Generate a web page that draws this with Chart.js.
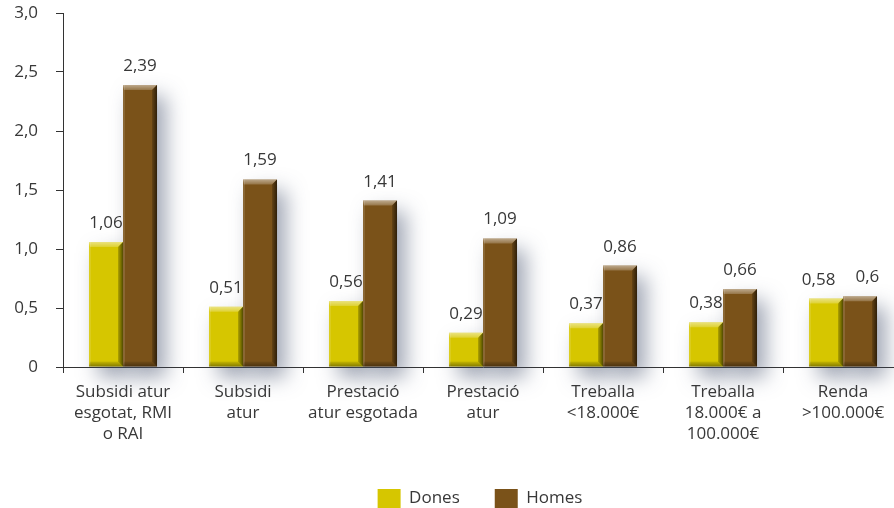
<!DOCTYPE html>
<html>
<head>
<meta charset="utf-8">
<title>Dones i homes per tipus d'ingrés</title>
<style>
  html, body { margin: 0; padding: 0; background: #ffffff; width: 894px; height: 508px; overflow: hidden; }
  #wrap { position: relative; width: 960px; height: 518px; }
</style>
<script src="https://cdn.jsdelivr.net/npm/chart.js@4/dist/chart.umd.min.js"></script>
</head>
<body>
<div id="wrap"><canvas id="chart" width="960" height="518"></canvas></div>
<script>
// Categories (multi-line axis labels)
const categories = [
  ['Subsidi atur', 'esgotat, RMI', 'o RAI'],
  ['Subsidi', 'atur'],
  ['Prestació', 'atur esgotada'],
  ['Prestació', 'atur'],
  ['Treballa', '<18.000€'],
  ['Treballa', '18.000€ a', '100.000€'],
  ['Renda', '>100.000€']
];

// Series values
const seriesNames = ['Dones', 'Homes'];
const dones = [1.06, 0.51, 0.56, 0.29, 0.37, 0.38, 0.58];
const homes = [2.39, 1.59, 1.41, 1.09, 0.86, 0.66, 0.6];

// Value-axis tick labels (0 to 3 in steps of 0.5)
const yTickLabels = ['0', '0,5', '1,0', '1,5', '2,0', '2,5', '3,0'];

const FONT = "'Open Sans', 'Noto Sans', sans-serif";
const TEXT = '#383838';
const AXIS = '#333333';
const COLOURS = ['#D6C600', '#7A5219'];

const decimal = v => String(v).replace('.', ',');

function barBox(bar) {
  const p = bar.getProps(['x', 'y', 'base', 'width'], true);
  return { l: p.x - p.width / 2, r: p.x + p.width / 2, t: p.y, b: p.base, cx: p.x };
}

// Soft drop shadow cast behind each bar
const barShadow = {
  id: 'barShadow',
  beforeDatasetsDraw(chart) {
    const ctx = chart.ctx;
    const far = 4000;
    ctx.save();
    ctx.shadowColor = 'rgba(70,82,110,0.50)';
    ctx.shadowBlur = 20;
    ctx.shadowOffsetX = far + 9;
    ctx.shadowOffsetY = 11;
    ctx.fillStyle = '#000';
    chart.data.datasets.forEach((ds, i) => {
      chart.getDatasetMeta(i).data.forEach(bar => {
        const b = barBox(bar);
        ctx.fillRect(b.l - far, b.t, b.r - b.l, b.b - b.t);
      });
    });
    ctx.restore();
  }
};

// Bevelled edges: light top, dark right and bottom
const barBevel = {
  id: 'barBevel',
  afterDatasetsDraw(chart) {
    const ctx = chart.ctx;
    const e = 5;
    ctx.save();
    chart.data.datasets.forEach((ds, i) => {
      chart.getDatasetMeta(i).data.forEach(bar => {
        const { l, r, t, b } = barBox(bar);
        if (b - t < 2 * e) return;
        // left sheen
        ctx.fillStyle = 'rgba(255,255,255,0.12)';
        ctx.fillRect(l, t, 2, b - t);
        // top face
        let g = ctx.createLinearGradient(0, t, 0, t + e);
        g.addColorStop(0, 'rgba(255,255,255,0.50)');
        g.addColorStop(1, 'rgba(255,255,255,0.20)');
        ctx.fillStyle = g;
        ctx.beginPath();
        ctx.moveTo(l, t); ctx.lineTo(r, t); ctx.lineTo(r - e, t + e); ctx.lineTo(l + 1, t + e);
        ctx.closePath(); ctx.fill();
        // right face
        g = ctx.createLinearGradient(r - e, 0, r, 0);
        g.addColorStop(0, 'rgba(0,0,0,0.18)');
        g.addColorStop(1, 'rgba(0,0,0,0.62)');
        ctx.fillStyle = g;
        ctx.beginPath();
        ctx.moveTo(r, t); ctx.lineTo(r, b); ctx.lineTo(r - e, b - e); ctx.lineTo(r - e, t + e);
        ctx.closePath(); ctx.fill();
        // bottom face
        g = ctx.createLinearGradient(0, b - e, 0, b);
        g.addColorStop(0, 'rgba(0,0,0,0.08)');
        g.addColorStop(1, 'rgba(0,0,0,0.38)');
        ctx.fillStyle = g;
        ctx.beginPath();
        ctx.moveTo(l, b); ctx.lineTo(r, b); ctx.lineTo(r - e, b - e); ctx.lineTo(l + 1, b - e);
        ctx.closePath(); ctx.fill();
      });
    });
    ctx.restore();
  }
};

// Value labels above the bars, nudged apart when neighbours collide
const valueLabels = {
  id: 'valueLabels',
  afterDatasetsDraw(chart) {
    const ctx = chart.ctx;
    ctx.save();
    ctx.font = '17px ' + FONT;
    ctx.fillStyle = TEXT;
    ctx.textAlign = 'center';
    ctx.textBaseline = 'alphabetic';
    const metas = chart.data.datasets.map((ds, i) => chart.getDatasetMeta(i));
    const n = chart.data.labels.length;
    for (let k = 0; k < n; k++) {
      const items = metas.map((m, i) => {
        const b = barBox(m.data[k]);
        const text = decimal(chart.data.datasets[i].data[k]);
        const w = ctx.measureText(text).width;
        return { text, x: b.cx, y: b.t - 14, w };
      });
      for (let i = 0; i + 1 < items.length; i++) {
        const a = items[i], c = items[i + 1];
        const gap = (c.x - c.w / 2) - (a.x + a.w / 2);
        const minGap = 20;
        if (Math.abs(a.y - c.y) < 18 && gap < minGap) {
          const shift = (minGap - gap) / 2;
          a.x -= shift; c.x += shift;
        }
      }
      items.forEach(it => ctx.fillText(it.text, it.x, it.y));
    }
    ctx.restore();
  }
};

Chart.defaults.font.family = FONT;
Chart.defaults.color = TEXT;

new Chart(document.getElementById('chart'), {
  type: 'bar',
  data: {
    labels: categories,
    datasets: [
      { label: seriesNames[0], data: dones, backgroundColor: COLOURS[0] },
      { label: seriesNames[1], data: homes, backgroundColor: COLOURS[1] }
    ]
  },
  options: {
    responsive: false,
    animation: false,
    layout: { padding: { top: 13, left: 0, right: 0, bottom: 0 } },
    datasets: { bar: { categoryPercentage: 0.567, barPercentage: 1.0, borderWidth: 0 } },
    scales: {
      x: {
        grid: { display: true, drawOnChartArea: false, drawTicks: true, tickLength: 6, color: AXIS, offset: true },
        border: { display: true, color: AXIS, width: 1 },
        ticks: { font: { size: 17, lineHeight: 21 / 17 }, color: TEXT, padding: 9, maxRotation: 0, minRotation: 0, autoSkip: false },
        afterFit(scale) { scale.height = 87; }
      },
      y: {
        min: 0, max: 3,
        grid: { display: true, drawOnChartArea: false, drawTicks: true, tickLength: 7, color: AXIS },
        border: { display: true, color: AXIS, width: 1 },
        ticks: {
          stepSize: 0.5, padding: 18, color: TEXT, font: { size: 17 },
          callback: v => yTickLabels[Math.round(v / 0.5)]
        },
        afterFit(scale) { scale.width = 63; scale.paddingTop = 0; scale.paddingBottom = 0; }
      },
      // empty right-hand gutter that keeps the plot 840px wide
      gutter: {
        type: 'linear', position: 'right', axis: 'y',
        grid: { display: false }, border: { display: false }, ticks: { display: false },
        afterFit(scale) { scale.width = 57; }
      }
    },
    plugins: {
      legend: {
        position: 'bottom',
        labels: { boxWidth: 23, boxHeight: 19, padding: 35, color: TEXT, font: { size: 17 } }
      },
      tooltip: { enabled: false }
    }
  },
  plugins: [barShadow, barBevel, valueLabels]
});
</script>
</body>
</html>
